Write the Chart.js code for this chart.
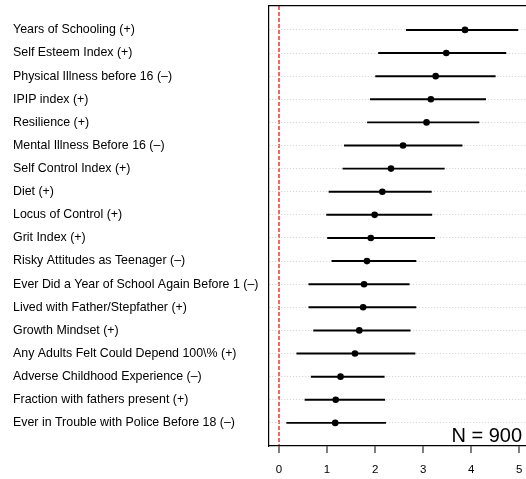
<!DOCTYPE html>
<html>
<head>
<meta charset="utf-8">
<script src="https://cdn.jsdelivr.net/npm/chart.js@4.4.1/dist/chart.umd.min.js"></script>
<style>
  html, body { margin: 0; padding: 0; background: #fff; }
  #wrap { width: 526px; height: 479px; }
</style>
</head>
<body>
<div id="wrap"><canvas id="chart" width="526" height="479"></canvas></div>
<script>
// outcomes, top to bottom
const outcomes = [
    'Years of Schooling (+)',
    'Self Esteem Index (+)',
    'Physical Illness before 16 (–)',
    'IPIP index (+)',
    'Resilience (+)',
    'Mental Illness Before 16 (–)',
    'Self Control Index (+)',
    'Diet (+)',
    'Locus of Control (+)',
    'Grit Index (+)',
    'Risky Attitudes as Teenager (–)',
    'Ever Did a Year of School Again Before 1 (–)',
    'Lived with Father/Stepfather (+)',
    'Growth Mindset (+)',
    'Any Adults Felt Could Depend 100\\% (+)',
    'Adverse Childhood Experience (–)',
    'Fraction with fathers present (+)',
    'Ever in Trouble with Police Before 18 (–)'
];
const estimate = [3.87, 3.48, 3.26, 3.16, 3.07, 2.58, 2.33, 2.15, 1.99, 1.91, 1.83, 1.77, 1.75, 1.67, 1.58, 1.28, 1.18, 1.17];
const lower = [2.65, 2.07, 2.01, 1.90, 1.84, 1.36, 1.33, 1.04, 0.99, 1.01, 1.10, 0.62, 0.62, 0.72, 0.37, 0.67, 0.54, 0.16];
const upper = [4.97, 4.72, 4.50, 4.30, 4.16, 3.81, 3.44, 3.17, 3.18, 3.24, 2.85, 2.71, 2.85, 2.73, 2.83, 2.19, 2.20, 2.22];
const xTicks = [0, 1, 2, 3, 4, 5];
const sampleNote = 'N = 900';

const FONT = '"Liberation Sans", Arial, Helvetica, sans-serif';

const noteText = {
    id: 'noteText',
    afterDraw(chart) {
        const {ctx, chartArea} = chart;
        ctx.save();
        ctx.font = '20px ' + FONT;
        ctx.fillStyle = '#000';
        ctx.textAlign = 'right';
        ctx.textBaseline = 'alphabetic';
        ctx.fillText(sampleNote, chartArea.right - 4, chartArea.bottom - 4);
        ctx.restore();
    }
};

const ctx = document.getElementById('chart').getContext('2d');

new Chart(ctx, {
    type: 'bar',
    data: {
        datasets: [{
            type: 'bar',
            indexAxis: 'y',
            data: outcomes.map((o, i) => ({y: i + 1, x: [lower[i], upper[i]]})),
            backgroundColor: '#000',
            borderWidth: 0,
            barThickness: 1.3,
            xAxisID: 'x',
            yAxisID: 'y',
            order: 2
        }, {
            type: 'scatter',
            data: outcomes.map((o, i) => ({y: i + 1, x: estimate[i]})),
            backgroundColor: '#000',
            borderWidth: 0,
            pointRadius: 3.3,
            pointHoverRadius: 3.3,
            xAxisID: 'x',
            yAxisID: 'y',
            order: 1
        }]
    },
    options: {
        responsive: false,
        animation: false,
        events: [],
        layout: {autoPadding: false, padding: {left: 13, top: 6, right: 0, bottom: 0}},
        plugins: {
            legend: {display: false},
            tooltip: {enabled: false}
        },
        scales: {
            x: {
                type: 'linear',
                position: 'bottom',
                min: -0.208,
                max: 5.139,
                offset: false,
                afterFit: (scale) => {
                    scale.height = 33;
                    scale.paddingLeft = 0;
                    scale.paddingRight = 0;
                },
                afterBuildTicks: (scale) => { scale.ticks = xTicks.map(v => ({value: v})); },
                ticks: {
                    color: '#000',
                    font: {family: FONT, size: 11.5},
                    padding: 10,
                    maxRotation: 0
                },
                grid: {
                    offset: false,
                    drawOnChartArea: true,
                    color: (c) => (c.tick && c.tick.value === 0) ? 'rgba(255, 80, 80, 0.9)' : 'rgba(0,0,0,0)',
                    lineWidth: 2,
                    tickLength: 7,
                    tickColor: '#000',
                    tickWidth: 1
                },
                border: {display: true, color: '#000', width: 1.2, dash: [4, 2]}
            },
            x2: {
                type: 'linear',
                position: 'top',
                min: -0.208,
                max: 5.139,
                afterFit: (scale) => {
                    scale.height = 0;
                    scale.paddingLeft = 0;
                    scale.paddingRight = 0;
                },
                ticks: {display: false},
                grid: {display: false, drawTicks: false},
                border: {display: true, color: '#000', width: 1.2}
            },
            y: {
                type: 'linear',
                reverse: true,
                min: -0.035,
                max: 19,
                offset: false,
                afterFit: (scale) => {
                    scale.width = 256;
                    scale.paddingTop = 0;
                    scale.paddingBottom = 0;
                },
                afterBuildTicks: (scale) => {
                    scale.ticks = outcomes.map((o, i) => ({value: i + 1}));
                },
                ticks: {
                    autoSkip: false,
                    crossAlign: 'far',
                    color: '#000',
                    font: {family: FONT, size: 12.4},
                    padding: 0,
                    callback: (v) => outcomes[v - 1] || ''
                },
                grid: {
                    offset: false,
                    drawTicks: false,
                    color: '#cfcfcf',
                    lineWidth: 1
                },
                border: {display: true, color: '#000', width: 1.2, dash: [1, 2]}
            }
        }
    },
    plugins: [noteText]
});
</script>
</body>
</html>
